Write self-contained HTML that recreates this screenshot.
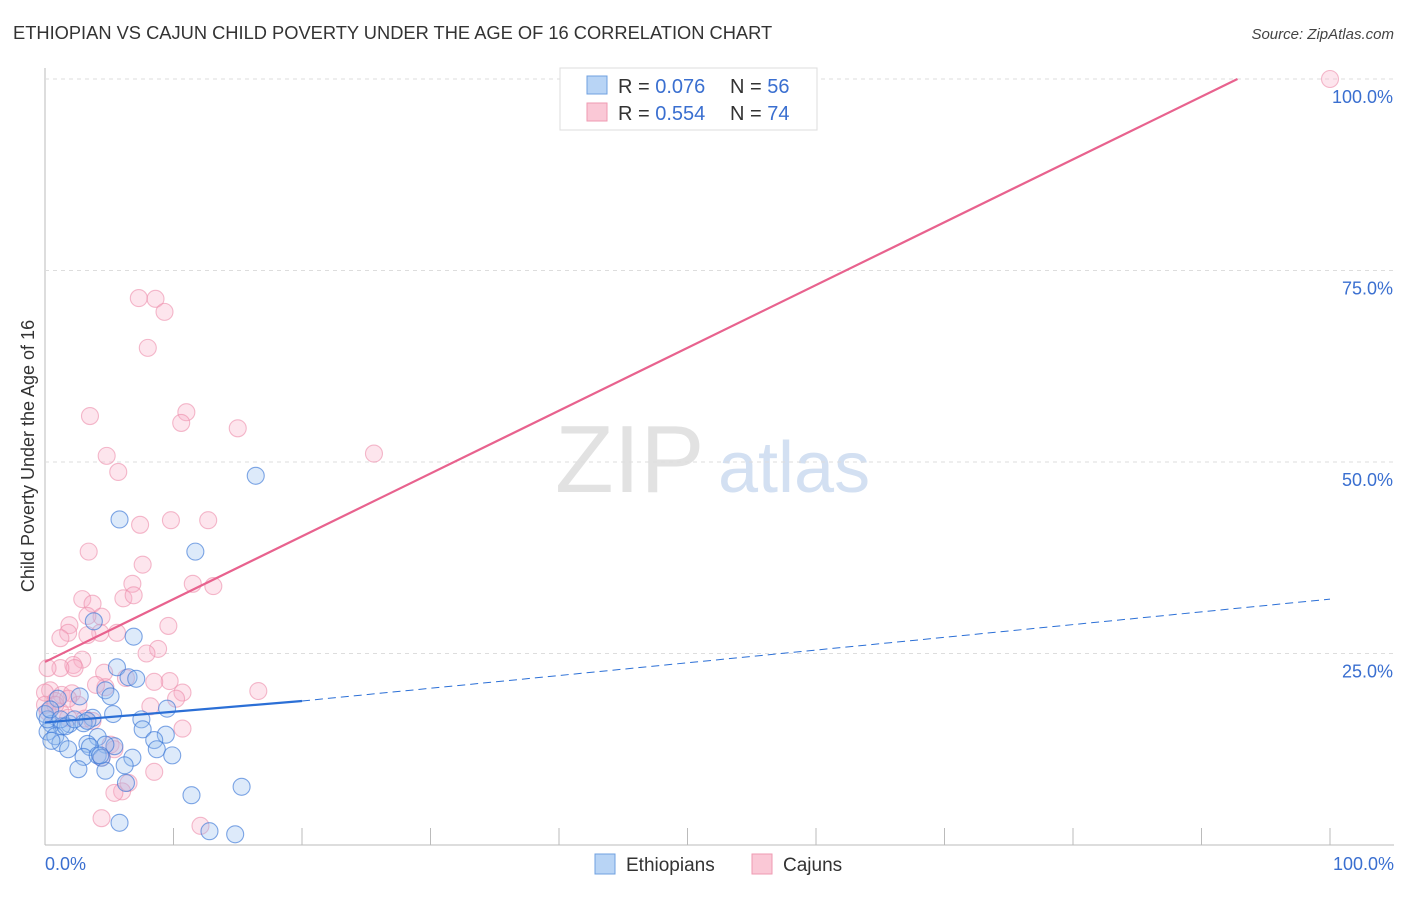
<!DOCTYPE html>
<html><head><meta charset="utf-8"><style>
body{margin:0;background:#fff;font-family:"Liberation Sans",sans-serif}
svg text{font-family:"Liberation Sans",sans-serif}
</style></head><body>
<svg id="c" width="1406" height="892">
<text x="13" y="39" font-size="18.3" fill="#333">ETHIOPIAN VS CAJUN CHILD POVERTY UNDER THE AGE OF 16 CORRELATION CHART</text>
<text x="1394" y="39" font-size="15" fill="#444" text-anchor="end" font-style="italic">Source: ZipAtlas.com</text>
<text x="34" y="456" font-size="18" fill="#333" text-anchor="middle" transform="rotate(-90 34 456)">Child Poverty Under the Age of 16</text>
<text x="555" y="492" font-size="96" fill="#e2e2e2" font-family="Liberation Serif">ZIP</text>
<text x="718" y="492" font-size="72" fill="#d3e0f2">atlas</text>
<g id="grid"></g><g id="pts"></g><g id="lines"></g>
<g>
<rect x="560" y="68" width="257" height="62" fill="#fff" stroke="#ddd"/>
<rect x="587" y="76" width="20" height="18" fill="#b8d4f5" stroke="#6fa0e0"/>
<rect x="587" y="103" width="20" height="18" fill="#fac8d6" stroke="#ef9ab2"/>
<text x="618" y="93" font-size="20" fill="#333">R = <tspan fill="#3a6fd0">0.076</tspan></text>
<text x="730" y="93" font-size="20" fill="#333">N = <tspan fill="#3a6fd0">56</tspan></text>
<text x="618" y="120" font-size="20" fill="#333">R = <tspan fill="#3a6fd0">0.554</tspan></text>
<text x="730" y="120" font-size="20" fill="#333">N = <tspan fill="#3a6fd0">74</tspan></text>
</g>
<g>
<rect x="595" y="854" width="20" height="20" fill="#b8d4f5" stroke="#6fa0e0"/>
<text x="626" y="871" font-size="19" fill="#333">Ethiopians</text>
<rect x="752" y="854" width="20" height="20" fill="#fac8d6" stroke="#ef9ab2"/>
<text x="783" y="871" font-size="19" fill="#333">Cajuns</text>
</g>
</svg>
<script>
const yTicks=[25,50,75,100];
const yTickLabels=["25.0%","50.0%","75.0%","100.0%"];
const xTickLabels=["0.0%","100.0%"];
const ethX=[16.4,5.8,11.7,3.8,6.9,5.6,6.5,7.1,4.7,5.1,2.7,1.0,5.3,9.5,7.5,7.6,3.7,1.9,0.5,1.3,3.0,0.2,0.8,1.2,1.8,4.1,3.3,5.4,4.7,9.4,8.5,8.7,9.9,3.5,3.0,4.1,4.4,6.8,6.2,2.6,4.7,6.3,11.4,15.3,5.8,12.8,14.8,0.0,0.2,0.4,1.2,1.6,2.3,0.5,4.3,3.3];
const ethY=[48.2,42.5,38.3,29.2,27.2,23.2,21.9,21.7,20.2,19.4,19.4,19.1,17.1,17.8,16.4,15.1,16.6,15.8,15.8,15.5,15.9,14.8,14.2,13.3,12.5,14.1,13.2,12.9,13.1,14.4,13.7,12.5,11.7,12.8,11.5,11.7,11.4,11.4,10.4,9.9,9.7,8.1,6.5,7.6,2.9,1.8,1.4,17.1,16.4,17.7,16.4,15.5,16.4,13.6,11.7,16.2];
const cajX=[100,7.3,8.6,9.3,8.0,3.5,11.0,10.6,15.0,25.6,4.8,5.7,7.4,9.8,12.7,3.4,7.6,6.8,11.5,13.1,6.1,6.9,2.9,3.7,4.4,3.3,9.6,1.9,1.8,4.3,5.6,3.3,1.2,8.8,7.9,2.9,2.2,2.3,1.2,0.2,4.6,9.7,8.5,6.3,4.7,3.97,16.6,10.7,10.2,0.4,0.0,1.3,2.1,0.8,2.6,0.2,8.2,3.1,3.7,1.2,1.8,10.7,5.1,5.4,4.4,6.5,6.0,5.4,8.5,4.4,12.1,0.0,0.8,1.8];
const cajY=[100,71.4,71.3,69.6,64.9,56.0,56.5,55.1,54.4,51.1,50.8,48.7,41.8,42.4,42.4,38.3,36.6,34.1,34.1,33.8,32.2,32.6,32.1,31.5,29.8,29.9,28.6,28.7,27.7,27.7,27.7,27.4,27.0,25.6,25.0,24.2,23.5,23.1,23.1,23.1,22.5,21.4,21.3,21.8,20.6,20.9,20.1,19.9,19.1,20.2,19.9,19.6,19.8,18.8,18.3,17.4,18.1,16.5,16.2,17.4,16.6,15.2,13.1,12.5,11.4,8.1,7.0,6.8,9.55,3.5,2.5,18.3,18.3,19.1];
const X0=45,X1=1330,Y0=845,Y100=79;
const sx=v=>X0+(X1-X0)*v/100, sy=v=>Y0-(Y0-Y100)*v/100;
const NS="http://www.w3.org/2000/svg";
function mk(t,a,p){const e=document.createElementNS(NS,t);for(const k in a)e.setAttribute(k,a[k]);p.appendChild(e);return e;}
const g=document.getElementById('grid');
mk('line',{x1:X0,y1:68,x2:X0,y2:845,stroke:'#bbb'},g);
mk('line',{x1:X0,y1:845,x2:1394,y2:845,stroke:'#bbb'},g);
yTicks.forEach((t,i)=>{
 const l=mk('line',{x1:X0,y1:sy(t),x2:1394,y2:sy(t),stroke:'#ddd','stroke-dasharray':'4,4'},g);
 
 
 const tx=mk('text',{x:1393,y:sy(t)+24,'font-size':18,fill:'#3a6fd0','text-anchor':'end'},g);
 tx.textContent=yTickLabels[i];
 
 
});
for(let i=1;i<=10;i++){mk('line',{x1:sx(i*10),y1:828,x2:sx(i*10),y2:845,stroke:'#bbb'},g);}
[[0,45,'start'],[1,1394,'end']].forEach(([i,x,a])=>{
 const t=mk('text',{x:x,y:870,'font-size':18,fill:'#3a6fd0','text-anchor':a},g);
 t.textContent=xTickLabels[i];
 
 
});
const p=document.getElementById('pts');
cajX.forEach((v,i)=>{
 const c=mk('circle',{cx:sx(v),cy:sy(cajY[i]),r:8.5,fill:'rgba(248,175,198,0.32)',stroke:'rgba(236,140,170,0.6)','stroke-width':1.1},p);
 
 
});
ethX.forEach((v,i)=>{
 const c=mk('circle',{cx:sx(v),cy:sy(ethY[i]),r:8.5,fill:'rgba(150,190,240,0.32)',stroke:'rgba(60,120,215,0.65)','stroke-width':1.1},p);
 
 
});
const L=document.getElementById('lines');
const pk=mk('line',{x1:sx(0),y1:sy(23.9),x2:sx(92.8),y2:sy(100),stroke:'#e8628e','stroke-width':2.2},L);


const bs=mk('line',{x1:sx(0),y1:sy(16.0),x2:sx(20),y2:sy(18.8),stroke:'#2b6fd6','stroke-width':2.2},L);


const bd=mk('line',{x1:sx(20),y1:sy(18.8),x2:sx(100),y2:sy(32.1),stroke:'#2b6fd6','stroke-width':1,'stroke-dasharray':'8,5'},L);


</script>
</body></html>
